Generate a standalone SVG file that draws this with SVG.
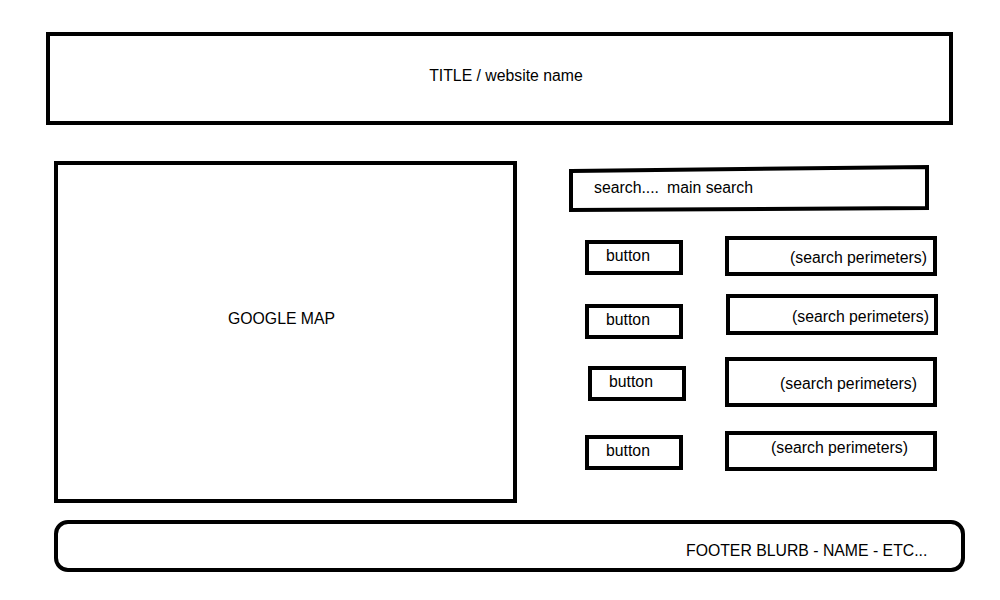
<svg xmlns="http://www.w3.org/2000/svg" width="1000" height="600" viewBox="0 0 1000 600">
<style>
.box{fill:#fff;stroke:#000;stroke-width:4;stroke-linejoin:miter}
.t{font-family:"Liberation Sans",Arial,sans-serif;font-size:15.8px;fill:#000}
</style>
<rect width="1000" height="600" fill="#fff"/>
<g id="title"><rect class="box" x="48" y="34" width="903" height="89"/><text class="t" x="506" y="81" text-anchor="middle">TITLE / website name</text></g>
<g id="map"><rect class="box" x="56" y="163" width="459" height="338"/><text class="t" x="228" y="324">GOOGLE MAP</text></g>
<g id="search"><polygon class="box" points="571,171 927,167 927,208 571,210"/><text class="t" x="594" y="193">search....<tspan x="667">main search</tspan></text></g>
<g id="button1"><rect class="box" x="587" y="242" width="94" height="31"/><text class="t" x="606" y="261">button</text></g>
<g id="button2"><rect class="box" x="587" y="306" width="94" height="31"/><text class="t" x="606" y="325">button</text></g>
<g id="button3"><rect class="box" x="590" y="368" width="94" height="31"/><text class="t" x="609" y="387">button</text></g>
<g id="button4"><rect class="box" x="587" y="437" width="94" height="31"/><text class="t" x="606" y="456">button</text></g>
<g id="param1"><rect class="box" x="727" y="238" width="208" height="36"/><text class="t" x="790" y="263">(search perimeters)</text></g>
<g id="param2"><rect class="box" x="728" y="296" width="208" height="37"/><text class="t" x="792" y="322">(search perimeters)</text></g>
<g id="param3"><rect class="box" x="727" y="359" width="208" height="46"/><text class="t" x="780" y="389">(search perimeters)</text></g>
<g id="param4"><rect class="box" x="727" y="433" width="208" height="36"/><text class="t" x="771" y="453">(search perimeters)</text></g>
<g id="footer"><rect class="box" x="56" y="522" width="907" height="48" rx="12" ry="12"/><text class="t" x="686" y="556">FOOTER BLURB - NAME - ETC...</text></g>
<g id="connectors"/>
</svg>
